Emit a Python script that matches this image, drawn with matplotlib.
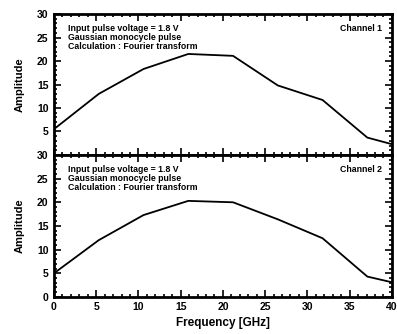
import numpy as np
import matplotlib.pyplot as plt
from matplotlib.ticker import MultipleLocator, FixedLocator

freq = [0, 5.3, 10.6, 15.9, 21.2, 26.5, 31.8, 37.1, 40]
amp_ch1 = [5.5, 13.0, 18.3, 21.5, 21.1, 14.8, 11.7, 3.7, 2.3]
amp_ch2 = [5.0, 12.0, 17.3, 20.3, 20.0, 16.4, 12.4, 4.3, 3.1]

info = ['Input pulse voltage = 1.8 V',
        'Gaussian monocycle pulse',
        'Calculation : Fourier transform']

plt.rcParams['font.family'] = 'Liberation Sans'
plt.rcParams['font.weight'] = 'bold'
plt.rcParams['axes.labelweight'] = 'bold'

fig = plt.figure(figsize=(3.97, 3.34), dpi=100)
ax1 = fig.add_axes([0.136, 0.536, 0.851, 0.422])
ax2 = fig.add_axes([0.136, 0.111, 0.851, 0.425])

for ax, amp, name in [(ax1, amp_ch1, 'Channel 1'), (ax2, amp_ch2, 'Channel 2')]:
    ax.plot(freq, amp, color='black', linewidth=1.3)
    ax.set_xlim(0, 40)
    ax.set_ylim(0, 30)
    ax.xaxis.set_major_locator(MultipleLocator(5))
    ax.xaxis.set_minor_locator(MultipleLocator(1))
    ax.yaxis.set_major_locator(MultipleLocator(5))
    ax.yaxis.set_minor_locator(MultipleLocator(1))
    ax.tick_params(which='both', direction='in', top=True, right=True,
                   labelsize=7.5, width=1.2, pad=4)
    ax.tick_params(which='major', length=5)
    ax.tick_params(which='minor', length=2.5)
    for s in ax.spines.values():
        s.set_linewidth(2)
    ax.set_ylabel('Amplitude', fontsize=8, labelpad=9)
    for i, t in enumerate(info):
        ax.text(0.04, 0.9 - i * 0.064, t, transform=ax.transAxes,
                fontsize=6.3, va='center', ha='left')
    ax.text(0.97, 0.9, name, transform=ax.transAxes,
            fontsize=6.3, va='center', ha='right')

# the top panel's 0 sits under the lower panel's 30
ax1.yaxis.set_major_formatter(plt.FuncFormatter(lambda v, p: '' if v == 0 else f'{v:g}'))
ax1.tick_params(labelbottom=False)
ax2.set_xlabel('Frequency [GHz]', fontsize=8.5, labelpad=3)

fig.savefig('out.png', dpi=100)
